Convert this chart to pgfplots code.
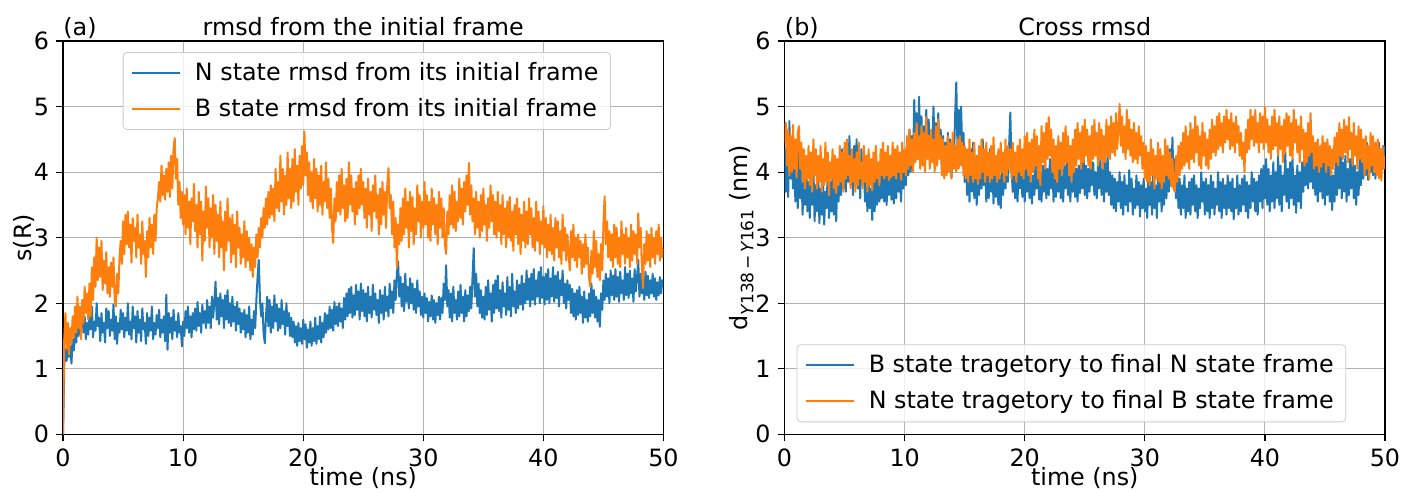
\documentclass[border=0pt]{standalone}
\usepackage{fontspec}
\setmainfont{DejaVu Sans}
\usepackage{pgfplots}
\usepackage{pgfplotstable}
\pgfplotsset{compat=1.18}

\definecolor{tabblue}{HTML}{1F77B4}
\definecolor{taborange}{HTML}{FF7F0E}

% (a) rmsd from the initial frame: t (ns), N state, B state
\pgfplotstableread{
t N B
0.0 0.00 0.00
0.1 1.05 1.45
0.2 1.30 1.85
0.3 1.12 1.30
0.4 1.40 1.70
0.5 1.18 1.22
0.6 1.35 1.62
0.7 1.08 1.38
0.8 1.45 1.80
0.9 1.28 1.48
1.0 1.55 1.95
1.1 1.40 1.55
1.2 1.75 2.10
1.3 1.50 1.62
1.4 1.88 1.95
1.5 1.62 1.45
1.6 1.95 2.05
1.7 1.55 1.70
1.8 1.80 2.25
1.9 1.45 1.85
2.0 1.70 2.15
2.1 1.52 1.75
2.2 1.85 2.30
2.3 1.60 1.80
2.4 1.95 2.55
2.5 1.48 2.05
2.6 1.72 2.70
2.7 1.58 2.25
2.8 2.00 3.00
2.9 1.65 2.35
3.0 1.78 2.85
3.1 1.42 2.40
3.2 1.85 2.95
3.3 1.55 2.20
3.4 1.70 2.65
3.5 1.40 2.30
3.6 1.92 2.78
3.7 1.62 2.15
3.8 1.88 2.55
3.9 1.50 2.10
4.0 1.75 2.62
4.1 1.58 2.25
4.2 1.98 2.70
4.3 1.45 2.05
4.4 1.80 1.95
4.5 1.38 2.45
4.6 1.70 2.15
4.7 1.55 2.68
4.8 1.90 2.95
4.9 1.60 2.60
5.0 1.85 3.25
5.1 1.48 2.75
5.2 1.78 3.35
5.3 1.58 2.90
5.4 2.00 3.40
5.5 1.52 2.85
5.6 1.72 3.20
5.7 1.45 2.62
5.8 1.95 3.30
5.9 1.62 2.95
6.0 1.80 3.15
6.1 1.40 2.70
6.2 1.88 3.35
6.3 1.55 2.85
6.4 1.75 3.05
6.5 1.42 2.60
6.6 1.92 3.25
6.7 1.60 2.75
6.8 1.70 2.95
6.9 1.38 2.40
7.0 1.85 3.10
7.1 1.50 2.70
7.2 1.78 3.30
7.3 1.58 2.85
7.4 1.95 3.20
7.5 1.45 2.75
7.6 1.70 3.35
7.7 1.52 2.95
7.8 1.82 3.45
7.9 1.62 3.60
8.0 1.90 3.85
8.1 1.48 3.55
8.2 1.75 4.10
8.3 1.55 3.65
8.4 1.80 3.95
8.5 1.42 3.58
8.6 2.13 4.05
8.7 1.29 3.70
8.8 1.85 4.15
8.9 1.55 3.62
9.0 1.78 4.25
9.1 1.45 3.75
9.2 1.90 4.35
9.3 1.58 4.52
9.4 1.72 3.90
9.5 1.48 4.20
9.6 1.85 3.50
9.7 1.55 3.85
9.8 1.65 3.30
9.9 1.34 3.70
10.0 1.72 3.20
10.1 1.50 3.65
10.2 1.88 3.05
10.3 1.62 3.75
10.4 1.95 3.15
10.5 1.55 3.55
10.6 1.80 2.90
10.7 1.48 3.60
10.8 1.85 3.25
10.9 1.60 3.82
11.0 1.92 3.10
11.1 1.58 3.50
11.2 2.02 2.85
11.3 1.65 3.70
11.4 1.85 3.05
11.5 1.55 3.55
11.6 1.98 2.65
11.7 1.70 3.40
11.8 1.88 2.95
11.9 1.62 3.78
12.0 2.05 3.15
12.1 1.70 3.60
12.2 1.95 2.85
12.3 1.62 3.45
12.4 2.10 3.00
12.5 1.78 3.65
12.6 2.02 2.75
12.7 2.33 3.50
12.8 1.75 2.95
12.9 2.08 3.35
13.0 1.68 2.70
13.1 2.15 3.55
13.2 1.80 2.85
13.3 2.05 3.25
13.4 1.62 2.50
13.5 2.12 3.40
13.6 1.75 2.80
13.7 2.20 3.60
13.8 1.70 2.95
13.9 2.00 3.30
14.0 1.65 2.62
14.1 2.10 3.35
14.2 1.72 2.75
14.3 1.95 3.20
14.4 1.58 2.55
14.5 2.02 3.40
14.6 1.68 2.85
14.7 1.92 3.15
14.8 1.55 2.60
14.9 1.85 3.05
15.0 1.60 2.70
15.1 1.90 3.25
15.2 1.48 2.55
15.3 1.82 3.10
15.4 1.55 2.65
15.5 1.95 3.00
15.6 1.45 2.50
15.7 1.75 2.90
15.8 1.52 2.40
15.9 1.88 2.85
16.0 1.62 2.55
16.1 2.05 3.05
16.2 2.40 2.70
16.3 2.66 3.15
16.4 2.05 2.85
16.5 1.80 3.30
16.6 2.00 3.00
16.7 1.55 3.45
16.8 1.39 3.15
16.9 1.80 3.60
17.0 2.10 3.20
17.1 1.65 3.70
17.2 2.05 3.30
17.3 1.55 3.80
17.4 1.95 3.35
17.5 1.62 3.75
17.6 2.12 3.25
17.7 1.72 4.05
17.8 1.98 3.45
17.9 1.58 3.85
18.0 1.92 3.40
18.1 1.62 4.25
18.2 2.05 3.55
18.3 1.68 4.05
18.4 1.88 3.35
18.5 1.52 3.95
18.6 2.00 3.50
18.7 1.65 4.30
18.8 1.85 3.60
18.9 1.50 4.05
19.0 1.78 3.45
19.1 1.48 4.20
19.2 1.72 3.55
19.3 1.40 4.35
19.4 1.65 3.70
19.5 1.35 4.10
19.6 1.70 3.50
19.7 1.42 4.25
19.8 1.62 3.75
19.9 1.38 4.40
20.0 1.75 3.80
20.1 1.45 4.62
20.2 1.68 3.95
20.3 1.32 4.30
20.4 1.60 3.65
20.5 1.40 4.15
20.6 1.72 3.55
20.7 1.35 4.00
20.8 1.62 3.45
20.9 1.42 4.20
21.0 1.78 3.60
21.1 1.38 4.05
21.2 1.65 3.40
21.3 1.45 3.95
21.4 1.80 3.50
21.5 1.40 4.10
21.6 1.70 3.35
21.7 1.48 3.85
21.8 1.85 3.55
21.9 1.55 4.15
22.0 1.82 3.45
22.1 1.60 3.90
22.2 1.95 3.30
22.3 1.62 3.75
22.4 1.90 3.15
22.5 1.58 2.92
22.6 2.02 3.60
22.7 1.68 3.25
22.8 1.95 3.85
22.9 1.65 3.40
23.0 2.00 3.95
23.1 1.72 3.35
23.2 1.92 4.05
23.3 1.62 3.45
23.4 2.08 3.80
23.5 1.75 3.25
23.6 2.15 3.90
23.7 1.80 3.30
23.8 2.22 4.15
23.9 1.85 3.50
24.0 2.25 3.95
24.1 1.78 3.40
24.2 2.12 3.75
24.3 1.82 3.20
24.4 2.28 3.85
24.5 1.90 3.35
24.6 2.18 3.95
24.7 1.75 3.45
24.8 2.30 4.05
24.9 1.88 3.50
25.0 2.20 3.85
25.1 1.80 3.30
25.2 2.15 3.75
25.3 1.72 3.15
25.4 2.25 3.90
25.5 1.85 3.35
25.6 2.10 3.70
25.7 1.78 3.10
25.8 2.28 3.80
25.9 1.90 3.40
26.0 2.15 3.95
26.1 1.82 3.30
26.2 2.05 3.65
26.3 1.70 3.05
26.4 2.20 3.75
26.5 1.85 3.20
26.6 2.12 3.85
26.7 1.75 3.35
26.8 2.25 3.70
26.9 1.88 3.15
27.0 2.10 3.80
27.1 1.80 4.06
27.2 2.30 3.45
27.3 1.92 3.65
27.4 2.18 3.05
27.5 1.85 3.55
27.6 2.35 2.85
27.7 2.05 3.30
27.8 2.45 2.55
27.9 2.64 3.20
28.0 2.10 2.90
28.1 2.40 3.45
28.2 1.95 2.95
28.3 2.30 3.60
28.4 1.88 3.05
28.5 2.45 3.75
28.6 2.02 3.15
28.7 2.25 3.55
28.8 1.92 2.85
28.9 2.38 3.70
29.0 2.00 3.10
29.1 2.30 3.62
29.2 1.90 2.90
29.3 2.22 3.45
29.4 1.85 3.05
29.5 2.35 3.80
29.6 1.95 3.25
29.7 2.18 3.65
29.8 1.82 3.00
29.9 2.10 3.55
30.0 1.78 3.15
30.1 2.15 3.85
30.2 1.85 3.20
30.3 2.08 3.65
30.4 1.72 3.00
30.5 2.02 3.55
30.6 1.80 2.95
30.7 2.12 3.75
30.8 1.75 3.20
30.9 2.05 3.60
31.0 1.70 3.05
31.1 2.00 3.50
31.2 1.82 2.90
31.3 2.10 3.70
31.4 1.75 3.15
31.5 2.08 3.60
31.6 1.85 3.00
31.7 2.30 3.45
31.8 2.05 2.90
31.9 2.58 2.75
32.0 1.95 3.40
32.1 2.20 3.05
32.2 1.78 3.65
32.3 2.15 3.20
32.4 1.72 3.80
32.5 2.25 3.15
32.6 1.85 3.70
32.7 2.05 3.10
32.8 1.75 3.55
32.9 2.18 3.25
33.0 1.80 3.90
33.1 2.28 3.30
33.2 1.85 3.75
33.3 2.10 3.20
33.4 1.72 3.85
33.5 2.20 3.40
33.6 1.80 3.95
33.7 2.12 3.50
33.8 1.88 4.14
33.9 2.25 3.35
34.0 1.92 3.80
34.1 2.40 3.25
34.2 2.84 3.60
34.3 2.10 3.05
34.4 2.45 3.70
34.5 1.95 3.15
34.6 2.30 3.55
34.7 1.85 3.00
34.8 2.20 3.65
34.9 1.78 3.10
35.0 2.10 3.75
35.1 1.75 3.20
35.2 2.25 3.50
35.3 1.82 2.95
35.4 2.35 3.60
35.5 1.90 3.15
35.6 2.15 3.80
35.7 1.72 3.25
35.8 2.28 3.65
35.9 1.85 3.05
36.0 2.35 3.55
36.1 1.92 3.00
36.2 2.42 3.70
36.3 1.88 3.10
36.4 2.20 3.50
36.5 1.78 2.90
36.6 2.32 3.65
36.7 1.95 3.05
36.8 2.15 3.45
36.9 1.82 2.85
37.0 2.40 3.55
37.1 1.90 3.00
37.2 2.25 3.62
37.3 1.80 2.95
37.4 2.45 3.40
37.5 1.95 2.80
37.6 2.18 3.50
37.7 1.85 3.05
37.8 2.35 3.60
37.9 1.92 2.90
38.0 2.28 3.45
38.1 1.98 2.75
38.2 2.42 3.35
38.3 1.90 2.95
38.4 2.30 3.55
38.5 2.00 2.85
38.6 2.50 3.40
38.7 2.05 2.90
38.8 2.38 3.60
38.9 1.95 3.05
39.0 2.45 3.45
39.1 2.05 2.85
39.2 2.52 3.30
39.3 1.98 2.80
39.4 2.35 3.55
39.5 2.10 2.95
39.6 2.48 3.40
39.7 2.00 2.75
39.8 2.55 3.25
39.9 2.08 2.90
40.0 2.40 3.48
40.1 1.98 2.85
40.2 2.45 3.30
40.3 2.05 2.70
40.4 2.52 3.20
40.5 2.00 2.80
40.6 2.38 3.35
40.7 2.10 2.75
40.8 2.55 3.15
40.9 2.02 2.65
41.0 2.42 3.30
41.1 2.08 2.85
41.2 2.48 3.25
41.3 1.95 2.70
41.4 2.35 3.10
41.5 2.12 2.60
41.6 2.50 3.35
41.7 2.00 2.80
41.8 2.30 3.15
41.9 1.92 2.65
42.0 2.35 3.05
42.1 2.05 2.75
42.2 2.28 2.50
42.3 1.85 3.10
42.4 2.22 2.70
42.5 1.80 3.20
42.6 2.15 2.65
42.7 1.75 3.00
42.8 2.20 2.55
42.9 1.82 3.05
43.0 2.25 2.70
43.1 1.85 2.95
43.2 2.10 2.45
43.3 1.70 2.90
43.4 2.18 2.55
43.5 1.78 3.05
43.6 2.05 2.60
43.7 1.72 2.85
43.8 2.15 2.40
43.9 1.80 2.25
44.0 2.30 2.80
44.1 1.85 2.45
44.2 2.20 3.10
44.3 1.78 2.55
44.4 2.10 2.95
44.5 1.72 2.40
44.6 2.05 2.75
44.7 1.64 2.35
44.8 2.15 2.90
44.9 1.90 2.50
45.0 2.35 3.20
45.1 2.05 3.63
45.2 2.45 2.90
45.3 2.10 3.25
45.4 2.38 2.70
45.5 2.00 3.10
45.6 2.50 2.65
45.7 2.12 3.05
45.8 2.42 2.55
45.9 2.05 3.20
46.0 2.52 2.70
46.1 2.10 3.15
46.2 2.40 2.60
46.3 2.02 3.00
46.4 2.48 2.55
46.5 2.15 3.25
46.6 2.35 2.75
46.7 2.05 3.05
46.8 2.55 2.60
46.9 2.12 3.15
47.0 2.45 2.70
47.1 2.08 3.00
47.2 2.50 2.55
47.3 2.15 3.20
47.4 2.38 2.65
47.5 2.02 3.10
47.6 2.52 2.75
47.7 2.18 3.05
47.8 2.40 2.60
47.9 2.66 3.37
48.0 2.10 2.85
48.1 2.45 3.15
48.2 2.15 2.55
48.3 2.40 2.23
48.4 2.05 2.90
48.5 2.48 2.60
48.6 2.12 3.10
48.7 2.42 2.65
48.8 2.08 3.05
48.9 2.35 2.55
49.0 2.15 3.15
49.1 2.45 2.70
49.2 2.10 3.00
49.3 2.38 2.60
49.4 2.05 3.10
49.5 2.32 2.75
49.6 2.12 3.20
49.7 2.40 2.65
49.8 2.15 3.00
49.9 2.35 2.70
50.0 2.25 2.85
}\rmsdinit

% (b) cross rmsd: t (ns), B traj. to final N frame, N traj. to final B frame
\pgfplotstableread{
t BN NB
0.0 4.35 4.45
0.1 3.70 4.75
0.2 4.55 4.10
0.3 3.62 4.65
0.4 4.78 3.95
0.5 3.90 4.55
0.6 4.40 4.00
0.7 3.75 4.72
0.8 4.25 4.05
0.9 3.55 4.50
1.0 4.10 3.92
1.1 3.45 4.60
1.2 4.30 4.70
1.3 3.60 4.05
1.4 4.05 4.45
1.5 3.35 3.85
1.6 3.95 4.35
1.7 3.50 3.75
1.8 4.20 4.25
1.9 3.40 3.90
2.0 3.85 4.40
2.1 3.30 3.80
2.2 3.95 4.30
2.3 3.50 3.70
2.4 4.10 4.50
2.5 3.25 3.95
2.6 3.80 4.35
2.7 3.40 3.75
2.8 4.00 4.25
2.9 3.22 3.85
3.0 3.75 4.40
3.1 3.35 3.70
3.2 3.90 4.20
3.3 3.20 3.80
3.4 3.70 4.45
3.5 3.45 3.85
3.6 4.05 4.30
3.7 3.30 3.65
3.8 3.85 4.15
3.9 3.40 3.90
4.0 3.95 4.35
4.1 3.35 3.75
4.2 3.80 4.25
4.3 3.25 3.68
4.4 4.00 4.20
4.5 3.55 3.80
4.6 4.20 4.40
4.7 3.65 3.85
4.8 4.35 4.30
4.9 3.75 3.70
5.0 4.25 4.45
5.1 3.70 3.90
5.2 4.45 4.50
5.3 3.85 3.95
5.4 4.55 4.25
5.5 3.80 3.75
5.6 4.30 4.35
5.7 3.65 3.85
5.8 4.40 4.20
5.9 3.90 3.70
6.0 4.50 4.30
6.1 3.75 3.80
6.2 4.20 4.45
6.3 3.60 3.90
6.4 4.35 4.15
6.5 3.85 3.75
6.6 4.15 4.40
6.7 3.55 3.85
6.8 3.95 4.25
6.9 3.40 3.70
7.0 3.90 4.35
7.1 3.45 3.80
7.2 3.75 4.20
7.3 3.27 3.72
7.4 3.85 4.30
7.5 3.40 3.85
7.6 3.95 4.40
7.7 3.50 3.90
7.8 4.00 4.15
7.9 3.55 3.80
8.0 4.05 4.35
8.1 3.60 3.95
8.2 4.15 4.45
8.3 3.55 3.90
8.4 3.95 4.30
8.5 3.50 3.95
8.6 4.10 4.40
8.7 3.65 3.88
8.8 4.20 4.25
8.9 3.58 3.92
9.0 3.95 4.45
9.1 3.52 3.95
9.2 4.05 4.35
9.3 3.60 3.90
9.4 4.15 4.40
9.5 3.70 4.00
9.6 4.00 4.30
9.7 3.55 3.88
9.8 4.20 4.45
9.9 3.75 4.00
10.0 4.25 4.35
10.1 3.80 3.95
10.2 4.45 4.55
10.3 3.95 4.05
10.4 4.65 4.65
10.5 4.00 4.10
10.6 4.55 4.50
10.7 4.10 4.00
10.8 5.10 4.60
10.9 4.30 4.15
11.0 4.90 4.75
11.1 4.20 4.20
11.2 5.15 4.55
11.3 4.40 4.05
11.4 4.85 4.70
11.5 4.15 4.10
11.6 4.70 4.60
11.7 4.20 4.00
11.8 4.95 4.84
11.9 4.35 4.20
12.0 4.80 4.55
12.1 4.15 4.05
12.2 4.60 4.65
12.3 4.25 4.15
12.4 5.00 4.50
12.5 4.30 4.00
12.6 4.75 4.70
12.7 4.10 4.10
12.8 4.90 4.80
12.9 4.25 4.20
13.0 4.65 4.55
13.1 4.05 3.95
13.2 4.55 4.50
13.3 3.95 3.90
13.4 4.45 4.40
13.5 4.00 3.95
13.6 4.60 4.55
13.7 4.05 4.00
13.8 4.50 4.45
13.9 3.92 3.90
14.0 4.40 4.60
14.1 4.15 4.05
14.2 4.85 4.40
14.3 5.37 4.00
14.4 4.35 4.50
14.5 4.95 4.05
14.6 4.40 4.55
14.7 5.00 4.10
14.8 4.30 4.45
14.9 4.60 3.95
15.0 3.85 4.40
15.1 4.30 3.90
15.2 3.65 4.35
15.3 4.15 3.85
15.4 3.55 4.50
15.5 4.35 3.95
15.6 3.70 4.30
15.7 4.45 3.85
15.8 3.60 4.45
15.9 4.20 3.90
16.0 3.50 4.25
16.1 4.05 3.82
16.2 3.65 4.40
16.3 4.30 3.90
16.4 3.75 4.50
16.5 4.50 4.00
16.6 3.80 4.35
16.7 4.25 3.85
16.8 3.55 4.45
16.9 4.10 3.95
17.0 3.60 4.30
17.1 4.35 3.85
17.2 3.70 4.40
17.3 4.15 3.90
17.4 3.52 4.53
17.5 4.05 3.95
17.6 3.62 4.25
17.7 4.20 3.85
17.8 3.50 4.35
17.9 3.95 3.90
18.0 3.45 4.45
18.1 4.00 4.00
18.2 3.65 4.30
18.3 4.15 3.85
18.4 3.75 4.50
18.5 4.25 3.95
18.6 3.85 4.40
18.7 4.40 4.05
18.8 4.91 4.35
18.9 4.05 3.90
19.0 3.70 4.45
19.1 4.20 3.95
19.2 3.60 4.30
19.3 4.05 3.85
19.4 3.55 4.40
19.5 4.15 4.00
19.6 3.75 4.50
19.7 4.20 3.95
19.8 3.62 4.35
19.9 4.00 3.90
20.0 3.55 4.55
20.1 4.10 4.05
20.2 3.70 4.60
20.3 4.23 3.95
20.4 3.60 4.45
20.5 4.05 3.85
20.6 3.52 4.50
20.7 3.95 4.00
20.8 3.65 4.65
20.9 4.15 4.10
21.0 3.75 4.55
21.1 4.20 3.90
21.2 3.58 4.40
21.3 4.00 3.80
21.4 3.55 4.70
21.5 4.10 4.15
21.6 3.70 4.60
21.7 4.18 4.05
21.8 3.60 4.75
21.9 4.05 4.20
22.0 3.65 4.84
22.1 4.20 4.25
22.2 3.75 4.65
22.3 4.10 4.00
22.4 3.55 4.50
22.5 4.00 3.90
22.6 3.62 4.40
22.7 4.15 3.85
22.8 3.70 4.55
22.9 4.25 4.05
23.0 3.60 4.45
23.1 4.05 3.95
23.2 3.55 4.60
23.3 4.10 4.10
23.4 3.75 4.70
23.5 4.20 4.15
23.6 3.65 4.55
23.7 4.00 3.95
23.8 3.55 4.40
23.9 4.15 3.85
24.0 3.70 4.50
24.1 4.25 4.00
24.2 3.62 4.65
24.3 4.05 4.10
24.4 3.55 4.75
24.5 4.10 4.20
24.6 3.68 4.60
24.7 4.20 4.05
24.8 3.75 4.70
24.9 4.28 4.15
25.0 3.65 4.80
25.1 4.10 4.25
25.2 3.60 4.65
25.3 4.05 4.10
25.4 3.70 4.55
25.5 4.25 4.05
25.6 3.80 4.70
25.7 4.15 4.20
25.8 3.65 4.80
25.9 4.00 4.25
26.0 3.60 4.60
26.1 4.10 4.10
26.2 3.75 4.75
26.3 4.20 4.20
26.4 3.65 4.65
26.5 4.05 4.05
26.6 3.55 4.55
26.7 4.15 4.15
26.8 3.70 4.80
26.9 4.25 4.25
27.0 3.65 4.70
27.1 4.00 4.20
27.2 3.50 4.85
27.3 3.95 4.30
27.4 3.45 4.75
27.5 3.90 4.25
27.6 3.40 4.90
27.7 3.85 4.35
27.8 3.55 4.65
27.9 4.00 5.04
28.0 3.45 4.40
28.1 3.85 4.85
28.2 3.35 4.30
28.3 3.95 4.70
28.4 3.50 4.20
28.5 3.80 4.95
28.6 3.40 4.35
28.7 4.03 4.80
28.8 3.55 4.25
28.9 3.90 4.65
29.0 3.35 4.15
29.1 3.75 4.75
29.2 3.45 4.20
29.3 3.95 4.60
29.4 3.50 4.13
29.5 3.85 4.70
29.6 3.32 4.25
29.7 3.80 4.55
29.8 3.45 4.05
29.9 3.90 4.45
30.0 3.40 3.90
30.1 3.75 4.40
30.2 3.30 3.85
30.3 3.95 4.30
30.4 3.50 3.80
30.5 3.85 4.50
30.6 3.35 3.95
30.7 4.00 4.35
30.8 3.45 3.75
30.9 3.80 4.25
31.0 3.30 3.90
31.1 3.90 4.45
31.2 3.55 3.85
31.3 4.05 4.35
31.4 3.40 3.75
31.5 3.85 4.25
31.6 3.50 3.85
31.7 4.10 4.50
31.8 3.60 3.95
31.9 4.25 4.40
32.0 3.70 3.90
32.1 4.35 4.30
32.2 3.85 3.78
32.3 4.53 4.20
32.4 3.75 3.75
32.5 4.20 3.70
32.6 3.60 4.25
32.7 4.05 3.85
32.8 3.45 4.40
32.9 3.90 3.95
33.0 3.35 4.45
33.1 3.80 4.05
33.2 3.45 4.60
33.3 3.95 4.10
33.4 3.30 4.70
33.5 3.75 4.15
33.6 3.40 4.55
33.7 3.85 4.05
33.8 3.35 4.75
33.9 3.90 4.20
34.0 3.50 4.65
34.1 3.95 4.15
34.2 3.40 4.85
34.3 3.80 4.30
34.4 3.30 4.70
34.5 3.75 4.10
34.6 3.45 4.55
34.7 4.00 4.05
34.8 3.55 4.75
34.9 3.85 4.25
35.0 3.35 4.60
35.1 3.90 4.10
35.2 3.40 4.50
35.3 3.80 4.05
35.4 3.30 4.65
35.5 3.95 4.20
35.6 3.45 4.80
35.7 3.85 4.30
35.8 3.35 4.70
35.9 3.75 4.25
36.0 3.50 4.85
36.1 4.00 4.35
36.2 3.40 4.90
36.3 3.85 4.40
36.4 3.30 4.75
36.5 3.90 4.30
36.6 3.45 4.85
36.7 3.80 4.45
36.8 3.35 4.95
36.9 3.95 4.50
37.0 3.45 4.80
37.1 3.85 4.35
37.2 3.40 4.90
37.3 3.90 4.40
37.4 3.28 4.75
37.5 3.75 4.30
37.6 3.45 4.85
37.7 3.95 4.45
37.8 3.35 4.70
37.9 3.80 4.25
38.0 3.40 4.60
38.1 3.90 4.20
38.2 3.50 4.45
38.3 3.95 4.00
38.4 3.40 4.65
38.5 3.85 4.30
38.6 3.30 4.80
38.7 3.80 4.35
38.8 3.45 4.95
38.9 4.00 4.50
39.0 3.55 4.85
39.1 3.90 4.40
39.2 3.40 4.95
39.3 3.85 4.45
39.4 3.35 4.75
39.5 3.95 4.30
39.6 3.55 4.90
39.7 4.05 4.45
39.8 3.45 4.85
39.9 4.10 4.35
40.0 3.60 4.99
40.1 4.20 4.45
40.2 3.50 4.80
40.3 4.05 4.30
40.4 3.40 4.70
40.5 3.95 4.20
40.6 3.55 4.85
40.7 4.15 4.35
40.8 3.45 4.95
40.9 4.00 4.40
41.0 3.60 4.75
41.1 4.25 4.25
41.2 3.50 4.85
41.3 4.10 4.35
41.4 3.40 4.70
41.5 3.95 4.15
41.6 3.65 4.80
41.7 4.30 4.30
41.8 3.55 4.90
41.9 4.05 4.40
42.0 3.45 4.85
42.1 4.15 4.25
42.2 3.60 4.75
42.3 4.20 4.20
42.4 3.50 4.95
42.5 3.95 4.45
42.6 3.38 4.80
42.7 4.10 4.30
42.8 3.55 4.70
42.9 4.00 4.15
43.0 3.45 4.85
43.1 4.15 4.35
43.2 3.70 4.65
43.3 4.30 4.10
43.4 3.80 4.60
43.5 4.25 4.15
43.6 3.75 4.75
43.7 4.43 4.25
43.8 3.85 4.90
43.9 4.35 4.30
44.0 3.75 4.55
44.1 4.20 4.05
44.2 3.65 4.45
44.3 4.25 4.10
44.4 3.55 4.50
44.5 4.10 4.00
44.6 3.70 4.40
44.7 4.30 4.08
44.8 3.60 4.55
44.9 4.15 4.15
45.0 3.50 4.45
45.1 4.05 4.00
45.2 3.65 4.50
45.3 4.25 4.10
45.4 3.55 4.40
45.5 4.10 3.95
45.6 3.42 4.35
45.7 3.95 4.05
45.8 3.55 4.53
45.9 4.20 4.15
46.0 3.65 4.60
46.1 4.25 4.10
46.2 3.75 4.75
46.3 4.33 4.25
46.4 3.60 4.65
46.5 4.15 4.20
46.6 3.70 4.80
46.7 4.25 4.30
46.8 3.55 4.70
46.9 4.05 4.15
47.0 3.65 4.84
47.1 4.20 4.35
47.2 3.75 4.60
47.3 4.30 4.10
47.4 3.60 4.75
47.5 4.10 4.25
47.6 3.50 4.55
47.7 4.00 4.05
47.8 3.65 4.70
47.9 4.25 4.20
48.0 3.80 4.65
48.1 4.30 4.15
48.2 3.90 4.50
48.3 4.40 3.95
48.4 3.95 4.55
48.5 4.45 4.05
48.6 3.88 4.40
48.7 4.35 3.90
48.8 4.00 4.60
48.9 4.48 4.10
49.0 3.95 4.55
49.1 4.40 4.00
49.2 3.90 4.45
49.3 4.30 3.95
49.4 4.05 4.50
49.5 4.45 3.90
49.6 3.95 4.35
49.7 4.35 3.87
49.8 4.10 4.40
49.9 4.40 4.05
50.0 4.15 4.25
}\rmsdcross

\pgfplotsset{
  panel/.style={
    scale only axis,
    width=300pt, height=196.5pt,
    xmin=0, xmax=50, ymin=0, ymax=6,
    xtick={0,10,...,50}, ytick={0,1,...,6},
    grid=major,
    grid style={color=black!30, line width=0.5pt},
    axis line style={line width=0.6pt},
    tick align=outside, xtick pos=left, ytick pos=left,
    major tick length=3.5pt,
    tick style={black, line width=0.6pt},
    /pgf/number format/assume math mode=true,
    legend cell align=left,
    legend image code/.code={%
      \draw[##1, line width=0.9pt] (0pt,0pt) -- (24pt,0pt);},
    legend style={draw=black!20, rounded corners=2pt, fill=white,
      fill opacity=0.8, text opacity=1, row sep=3.5pt,
      inner xsep=4pt, inner ysep=3pt},
  },
  c0/.style={tabblue, line width=1pt, line join=round},
  c1/.style={taborange, line width=1pt, line join=round},
}

\begin{document}
\begin{tikzpicture}[font=\fontsize{11.9}{14}\selectfont]

\begin{axis}[panel, name=L, at={(0,0)}, anchor=south west,
    legend style={at={(0.506,1)}, anchor=north, yshift=-5.5pt}]
\addplot[c0] table[x=t, y=N] {\rmsdinit};
\addlegendentry{\hspace*{5pt}N state rmsd from its initial frame}
\addplot[c1] table[x=t, y=B] {\rmsdinit};
\addlegendentry{\hspace*{5pt}B state rmsd from its initial frame}
\end{axis}

\begin{axis}[panel, name=R, at={(360.5pt,0)}, anchor=south west,
    legend style={at={(0,0)}, anchor=south west, xshift=6pt, yshift=6pt}]
\addplot[c0] table[x=t, y=BN] {\rmsdcross};
\addlegendentry{\hspace*{5pt}B state tragetory to final N state frame}
\addplot[c1] table[x=t, y=NB] {\rmsdcross};
\addlegendentry{\hspace*{5pt}N state tragetory to final B state frame}
\end{axis}

% titles and labels
\node[anchor=base west, inner sep=0pt] at ([yshift=3pt]L.north west) {(a)};
\node[anchor=base, inner sep=0pt] at ([yshift=3pt]L.north) {rmsd from the initial frame};
\node[anchor=base west, inner sep=0pt] at ([yshift=3pt]R.north west) {(b)};
\node[anchor=base, inner sep=0pt] at ([yshift=3pt]R.north) {Cross rmsd};
\node[anchor=base, inner sep=0pt] at ([yshift=-25.5pt]L.south) {time (ns)};
\node[anchor=base, inner sep=0pt] at ([yshift=-25.5pt]R.south) {time (ns)};
\node[rotate=90, anchor=base, inner sep=0pt] at ([xshift=-16pt]L.west) {s(R)};
\node[rotate=90, anchor=base, inner sep=0pt] at ([xshift=-18.5pt]R.west)
  {d\raisebox{-0.25em}{\fontsize{8.5}{9}\selectfont\itshape Y\upshape138\,−\,\itshape Y\upshape161} (nm)};

\pgfresetboundingbox
\path ([shift={(-31.5pt,-28.5pt)}]L.south west) rectangle ([shift={(9pt,20.5pt)}]R.north east);
\end{tikzpicture}
\end{document}
